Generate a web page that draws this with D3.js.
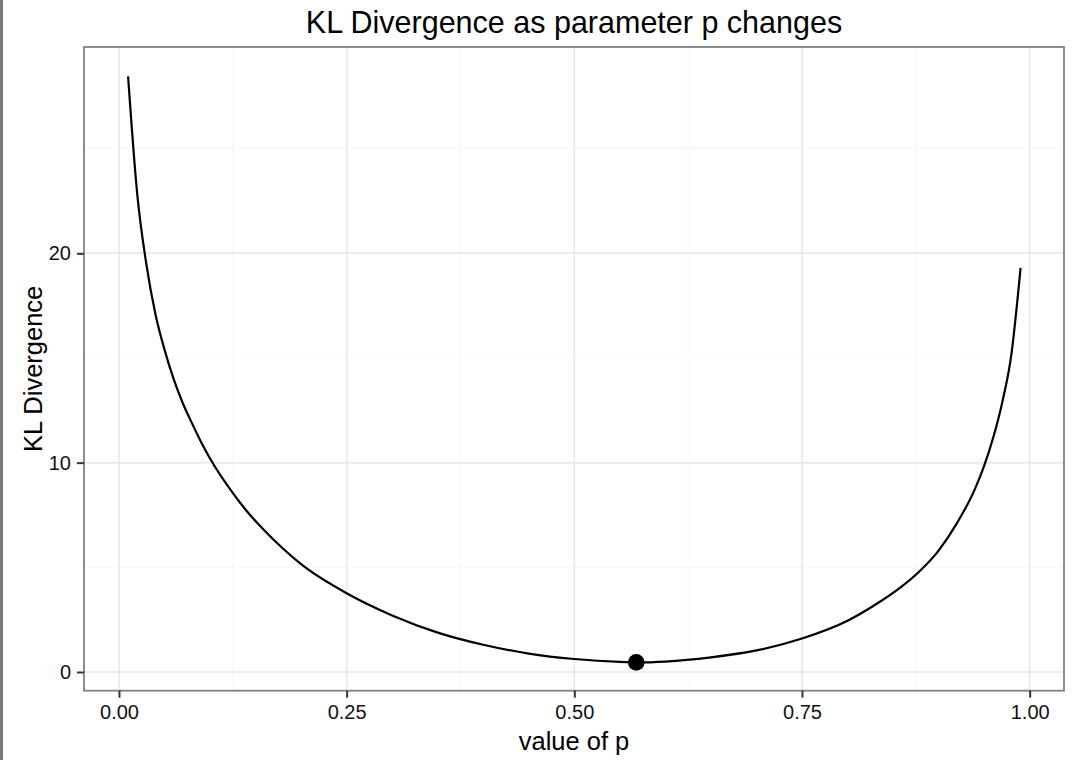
<!DOCTYPE html>
<html>
<head>
<meta charset="utf-8">
<script src="https://cdn.jsdelivr.net/npm/d3@7"></script>
<style>
  html, body { margin: 0; padding: 0; background: #fff; }
  svg { display: block; font-family: "Liberation Sans", Arial, Helvetica, sans-serif; }
</style>
</head>
<body>
<svg id="chart" width="1075" height="760"></svg>
<script>
// ---- data ----
const pValues  = [0.01,0.02,0.03,0.04,0.05,0.06,0.07,0.08,0.09,0.10,0.12,0.14,0.16,0.18,0.20,0.25,0.30,0.35,0.40,0.45,0.50,0.55,0.57,0.60,0.65,0.70,0.75,0.80,0.83,0.86,0.88,0.90,0.92,0.94,0.95,0.96,0.97,0.98,0.99];
const klValues = [28.45,22.85,19.5,17.1,15.4,14.0,12.85,11.9,11.0,10.2,8.85,7.7,6.75,5.9,5.15,3.76,2.7,1.88,1.3,0.88,0.62,0.48,0.46,0.5,0.7,1.03,1.6,2.45,3.2,4.1,4.85,5.8,7.1,8.75,9.85,11.2,12.9,15.2,19.3];
const minP  = [0.568];
const minKL = [0.46];
const xTicks = [0, 0.25, 0.5, 0.75, 1];
const xTickLabels = ["0.00", "0.25", "0.50", "0.75", "1.00"];
const xMinor = [0.125, 0.375, 0.625, 0.875];
const yTicks = [0, 10, 20];
const yTickLabels = ["0", "10", "20"];
const yMinor = [5, 15, 25];
const titleText = "KL Divergence as parameter p changes";
const xTitle = "value of p";
const yTitle = "KL Divergence";

// ---- layout ----
const svg = d3.select("#chart");
const panel = { left: 84, right: 1064, top: 47, bottom: 690.7 };

const x = d3.scaleLinear().domain([-0.0384, 1.0377]).range([panel.left, panel.right]);
const y = d3.scaleLinear().domain([-0.893, 29.855]).range([panel.bottom, panel.top]);

// left gray strip
svg.append("rect").attr("x", 0).attr("y", 0).attr("width", 3).attr("height", 760).attr("fill", "#7a7a7a");

// panel background
svg.append("rect")
  .attr("x", panel.left).attr("y", panel.top)
  .attr("width", panel.right - panel.left).attr("height", panel.bottom - panel.top)
  .attr("fill", "#fff");

const grid = svg.append("g");
// minor grid
grid.selectAll(".xminor").data(xMinor).enter().append("line")
  .attr("x1", d => x(d)).attr("x2", d => x(d))
  .attr("y1", panel.top).attr("y2", panel.bottom)
  .attr("stroke", "#f7f7f7").attr("stroke-width", 1.2);
grid.selectAll(".yminor").data(yMinor).enter().append("line")
  .attr("y1", d => y(d)).attr("y2", d => y(d))
  .attr("x1", panel.left).attr("x2", panel.right)
  .attr("stroke", "#f7f7f7").attr("stroke-width", 1.2);
// major grid
grid.selectAll(".xmajor").data(xTicks).enter().append("line")
  .attr("x1", d => x(d)).attr("x2", d => x(d))
  .attr("y1", panel.top).attr("y2", panel.bottom)
  .attr("stroke", "#e6e6e6").attr("stroke-width", 1.5);
grid.selectAll(".ymajor").data(yTicks).enter().append("line")
  .attr("y1", d => y(d)).attr("y2", d => y(d))
  .attr("x1", panel.left).attr("x2", panel.right)
  .attr("stroke", "#e6e6e6").attr("stroke-width", 1.5);

// curve
const data = pValues.map((p, i) => ({ p, v: klValues[i] }));
const line = d3.line().x(d => x(d.p)).y(d => y(d.v)).curve(d3.curveMonotoneX);
svg.append("path").datum(data)
  .attr("d", line)
  .attr("fill", "none").attr("stroke", "#000").attr("stroke-width", 2.2)
  .attr("stroke-linejoin", "round");

// min point
svg.selectAll(".pt").data(minP.map((p, i) => ({ p, v: minKL[i] }))).enter().append("circle")
  .attr("cx", d => x(d.p)).attr("cy", d => y(d.v)).attr("r", 8.3).attr("fill", "#000");

// panel border
svg.append("rect")
  .attr("x", panel.left).attr("y", panel.top)
  .attr("width", panel.right - panel.left).attr("height", panel.bottom - panel.top)
  .attr("fill", "none").attr("stroke", "#808080").attr("stroke-width", 1.8);

// axes
const xAxis = d3.axisBottom(x).tickValues(xTicks).tickFormat((d, i) => xTickLabels[i])
  .tickSize(7).tickPadding(7);
const gx = svg.append("g").attr("transform", `translate(0,${panel.bottom})`).call(xAxis);
gx.select(".domain").remove();
gx.selectAll(".tick line").attr("stroke", "#333").attr("stroke-width", 2);
gx.selectAll(".tick text").attr("font-size", 20).attr("fill", "#111")
  .attr("font-family", "Liberation Sans, Arial, sans-serif");

const yAxis = d3.axisLeft(y).tickValues(yTicks).tickFormat((d, i) => yTickLabels[i])
  .tickSize(7).tickPadding(6);
const gy = svg.append("g").attr("transform", `translate(${panel.left},0)`).call(yAxis);
gy.select(".domain").remove();
gy.selectAll(".tick line").attr("stroke", "#333").attr("stroke-width", 2);
gy.selectAll(".tick text").attr("font-size", 20).attr("fill", "#111")
  .attr("font-family", "Liberation Sans, Arial, sans-serif");

// titles
svg.append("text")
  .attr("x", (panel.left + panel.right) / 2).attr("y", 33)
  .attr("text-anchor", "middle").attr("font-size", 30.5).attr("fill", "#000")
  .text(titleText);
svg.append("text")
  .attr("x", (panel.left + panel.right) / 2).attr("y", 750)
  .attr("text-anchor", "middle").attr("font-size", 25.5).attr("fill", "#000")
  .text(xTitle);
svg.append("text")
  .attr("transform", `translate(42,${(panel.top + panel.bottom) / 2}) rotate(-90)`)
  .attr("text-anchor", "middle").attr("font-size", 25.5).attr("fill", "#000")
  .text(yTitle);
</script>
</body>
</html>
